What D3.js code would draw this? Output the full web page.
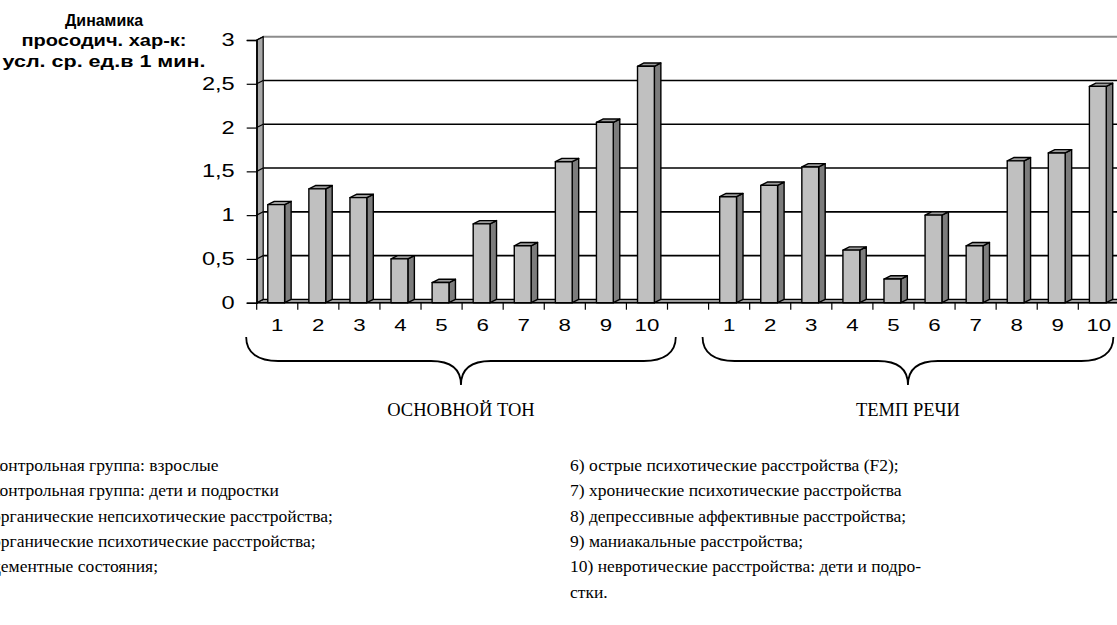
<!DOCTYPE html>
<html>
<head>
<meta charset="utf-8">
<script src="https://cdn.jsdelivr.net/npm/d3@7"></script>
<style>
  html, body { margin: 0; padding: 0; background: #fff; overflow: hidden; }
  svg { display: block; }
</style>
</head>
<body>
<div id="chart"></div>
<script>
// values
const categories = ['1', '2', '3', '4', '5', '6', '7', '8', '9', '10'];
const groupNames = ['ОСНОВНОЙ ТОН', 'ТЕМП РЕЧИ'];
const baseTone = [1.12, 1.3, 1.2, 0.5, 0.23, 0.9, 0.65, 1.61, 2.06, 2.7];
const speechRate = [1.21, 1.34, 1.55, 0.6, 0.27, 1.0, 0.65, 1.62, 1.71, 2.47];
const yTicks = [0, 0.5, 1, 1.5, 2, 2.5, 3];
const yTitle = ['Динамика', 'просодич. хар-к:', 'усл. ср. ед.в 1 мин.'];
const legendLeft = [
    '1) контрольная группа: взрослые',
    '2) контрольная группа: дети и подростки',
    '3) органические непсихотические расстройства;',
    '4) органические психотические расстройства;',
    '5) дементные состояния;'
];
const legendRight = [
    '6) острые психотические расстройства (F2);',
    '7) хронические психотические расстройства',
    '8) депрессивные аффективные расстройства;',
    '9) маниакальные расстройства;',
    '10) невротические расстройства: дети и подро-',
    'стки.'
];

const width = 1117;
const height = 625;
const sans = 'Arial, "Liberation Sans", sans-serif';
const serif = '"Liberation Serif", "Times New Roman", serif';
const stretch = 1.35;   // chart texts look widened in the source picture

// slots: group 1, an empty gap slot, group 2
const series = [baseTone, speechRate];
const slots = [];
const bars = [];
series.forEach((vals, g) => {
    if (g > 0) slots.push('gap' + g);
    categories.forEach((c, i) => {
        const key = g + '-' + c;
        slots.push(key);
        bars.push({ key, cat: c, group: g, value: vals[i] });
    });
});

const plot = { left: 256.7, bottom: 302.7, top: 40 };
const dx = 6.5, dy = -3.3;   // 3d depth offset

const x = d3.scaleBand()
    .domain(slots)
    .range([plot.left, plot.left + 21 * 41.1])
    .paddingInner(0.59)
    .paddingOuter(0.3)
    .align(0.45);

const y = d3.scaleLinear().domain([0, 3]).range([plot.bottom, plot.top]);

const svg = d3.select('#chart')
    .append('svg')
    .attr('width', width)
    .attr('height', height);

const xEnd = x.range()[1] + 10;
const x0 = x.range()[0];

// floor
svg.append('polygon')
    .attr('points', [[x0, y(0)], [xEnd, y(0)], [xEnd + dx, y(0) + dy], [x0 + dx, y(0) + dy]].join(' '))
    .attr('fill', '#9a9a9a')
    .attr('stroke', '#000')
    .attr('stroke-width', 1.2);

// back wall gridlines
svg.append('g')
    .selectAll('line')
    .data(yTicks.filter((t) => t > 0 && t < 3))
    .join('line')
    .attr('x1', x0 + dx)
    .attr('x2', xEnd + dx)
    .attr('y1', (d) => y(d) + dy)
    .attr('y2', (d) => y(d) + dy)
    .attr('stroke', '#000')
    .attr('stroke-width', 1.6);

// top edge of the back wall
svg.append('line')
    .attr('x1', x0 + dx)
    .attr('x2', xEnd + dx)
    .attr('y1', y(3) + dy)
    .attr('y2', y(3) + dy)
    .attr('stroke', '#8c8c8c')
    .attr('stroke-width', 2);

// left side wall
svg.append('polygon')
    .attr('points', [[x0, y(0)], [x0 + dx, y(0) + dy], [x0 + dx, y(3) + dy], [x0, y(3)]].join(' '))
    .attr('fill', '#a8a8a8')
    .attr('stroke', '#000')
    .attr('stroke-width', 1.2);

svg.append('g')
    .selectAll('line')
    .data(yTicks.filter((t) => t > 0))
    .join('line')
    .attr('x1', x0)
    .attr('x2', x0 + dx)
    .attr('y1', (d) => y(d))
    .attr('y2', (d) => y(d) + dy)
    .attr('stroke', '#000')
    .attr('stroke-width', 1.2);

// bars
const bw = x.bandwidth();
const barG = svg.append('g')
    .selectAll('g')
    .data(bars)
    .join('g')
    .attr('stroke', '#000')
    .attr('stroke-width', 1.4)
    .attr('stroke-linejoin', 'round');

barG.append('polygon')
    .attr('points', (d) => {
        const bx = x(d.key) + bw;
        return [[bx, y(d.value)], [bx + dx, y(d.value) + dy], [bx + dx, y(0) + dy], [bx, y(0)]].join(' ');
    })
    .attr('fill', '#7c7c7c');

barG.append('polygon')
    .attr('points', (d) => {
        const bx = x(d.key);
        return [[bx, y(d.value)], [bx + dx, y(d.value) + dy], [bx + bw + dx, y(d.value) + dy], [bx + bw, y(d.value)]].join(' ');
    })
    .attr('fill', '#9c9c9c');

barG.append('rect')
    .attr('x', (d) => x(d.key))
    .attr('y', (d) => y(d.value))
    .attr('width', bw)
    .attr('height', (d) => y(0) - y(d.value))
    .attr('fill', '#c0c0c0');

// y axis
const yAxis = svg.append('g')
    .attr('transform', `translate(${x0},0)`)
    .call(d3.axisLeft(y)
        .tickValues(yTicks)
        .tickSize(10)
        .tickFormat((d) => String(d).replace('.', ',')));
yAxis.select('.domain').attr('stroke-width', 1.4);
yAxis.selectAll('line').attr('stroke-width', 1.2);
yAxis.selectAll('text')
    .attr('x', -22 / stretch)
    .attr('transform', `scale(${stretch},1)`)
    .attr('font-family', sans)
    .attr('font-size', 17.5)
    .attr('fill', '#000');

// x axis line and slot boundary ticks
svg.append('line')
    .attr('x1', x0)
    .attr('x2', xEnd)
    .attr('y1', y(0))
    .attr('y2', y(0))
    .attr('stroke', '#000')
    .attr('stroke-width', 1.4);

svg.append('g')
    .selectAll('line')
    .data(d3.range(slots.length + 1))
    .join('line')
    .attr('x1', (k) => x0 + k * x.step())
    .attr('x2', (k) => x0 + k * x.step())
    .attr('y1', y(0))
    .attr('y2', y(0) + 7)
    .attr('stroke', '#000')
    .attr('stroke-width', 1.2);

const xAxis = svg.append('g')
    .attr('transform', `translate(1,${y(0)})`)
    .call(d3.axisBottom(x)
        .tickValues(bars.map((d) => d.key))
        .tickSize(0)
        .tickPadding(16.5)
        .tickFormat((k) => k.split('-')[1]));
xAxis.select('.domain').remove();
xAxis.selectAll('text')
    .attr('transform', `scale(${stretch},1)`)
    .attr('font-family', sans)
    .attr('font-size', 16.5)
    .attr('fill', '#000');

// y axis title
const titleWidths = [78, 165, 203];
svg.append('g')
    .selectAll('text')
    .data(yTitle)
    .join('text')
    .attr('x', 104)
    .attr('y', (d, i) => 25.5 + i * 20.5)
    .attr('text-anchor', 'middle')
    .attr('font-family', sans)
    .attr('font-weight', 'bold')
    .attr('font-size', 16)
    .attr('textLength', (d, i) => titleWidths[i])
    .attr('lengthAdjust', 'spacingAndGlyphs')
    .text((d) => d);

// braces under each group (drawn by hand in the source, so slightly uneven)
const braceTop = 337, braceMid = 361, braceTip = 385;
const braceInset = [[-9.5, 9.3], [-5, -5]];
groupNames.forEach((name, g) => {
    const keys = bars.filter((d) => d.group === g).map((d) => d.key);
    const first = x(keys[0]) - x.step() * x.paddingInner() / 2;
    const last = x(keys[keys.length - 1]) + bw + x.step() * x.paddingInner() / 2;
    const L = first + braceInset[g][0];
    const R = last + braceInset[g][1];
    const T = (L + R) / 2;
    const p = d3.path();
    p.moveTo(L, braceTop);
    p.bezierCurveTo(L, braceMid - 8, L + 12, braceMid, L + 32, braceMid);
    p.lineTo(T - 30, braceMid);
    p.bezierCurveTo(T - 12, braceMid, T, braceMid + 7, T, braceTip);
    p.bezierCurveTo(T, braceMid + 7, T + 12, braceMid, T + 30, braceMid);
    p.lineTo(R - 32, braceMid);
    p.bezierCurveTo(R - 12, braceMid, R, braceMid - 8, R, braceTop);
    svg.append('path')
        .attr('d', p.toString())
        .attr('fill', 'none')
        .attr('stroke', '#000')
        .attr('stroke-width', 1.8);

    svg.append('text')
        .attr('x', T)
        .attr('y', 416)
        .attr('text-anchor', 'middle')
        .attr('font-family', serif)
        .attr('font-size', 18.5)
        .text(name);
});

// legend columns
svg.append('g')
    .selectAll('text')
    .data(legendLeft)
    .join('text')
    .attr('x', -27)
    .attr('y', (d, i) => 471 + i * 25.3)
    .attr('font-family', serif)
    .attr('font-size', 17.5)
    .text((d) => d);

svg.append('g')
    .selectAll('text')
    .data(legendRight)
    .join('text')
    .attr('x', 570)
    .attr('y', (d, i) => 471 + i * 25.3)
    .attr('font-family', serif)
    .attr('font-size', 17.5)
    .text((d) => d);
</script>
</body>
</html>
